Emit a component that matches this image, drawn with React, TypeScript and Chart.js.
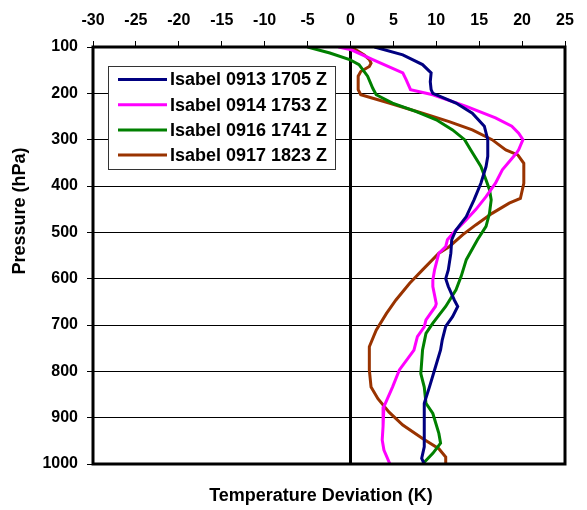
import React, { useEffect, useRef } from "react";
import { Chart, registerables } from "chart.js";

Chart.register(...registerables);

// ---- data ----
const seriesLabels = [
  "Isabel 0913 1705 Z",
  "Isabel 0914 1753 Z",
  "Isabel 0916 1741 Z",
  "Isabel 0917 1823 Z",
];
const seriesColors = ["#000080", "#FF00FF", "#008000", "#993300"];

const p0913 = [100, 117, 138, 156, 175, 192, 200, 221, 243, 271, 300, 336, 358, 394, 430, 466, 495, 516, 545, 581, 600, 617, 646, 660, 682, 703, 732, 754, 797, 834, 869, 919, 963, 988, 1000];
const t0913 = [2.8, 6.1, 8.4, 9.4, 9.3, 9.4, 9.6, 12.3, 14.2, 15.6, 16.0, 16.0, 15.8, 15.2, 14.4, 13.5, 12.3, 11.8, 11.7, 11.4, 11.1, 11.4, 12.1, 12.5, 11.9, 11.1, 10.7, 10.5, 9.8, 9.2, 8.6, 8.6, 8.6, 8.3, 8.6];

const p0914 = [100, 106, 127, 156, 171, 192, 203, 228, 253, 271, 286, 300, 322, 330, 365, 394, 423, 451, 473, 499, 516, 531, 545, 581, 603, 617, 654, 660, 689, 704, 725, 754, 797, 834, 876, 919, 948, 970, 1000];
const t0914 = [-1.4, 0.1, 2.6, 6.1, 6.5, 7.0, 9.6, 13.5, 16.9, 18.8, 19.6, 20.1, 19.6, 19.3, 17.7, 16.9, 15.8, 14.6, 13.5, 12.1, 11.3, 11.1, 10.3, 9.8, 9.6, 9.6, 10.0, 9.9, 8.8, 8.6, 7.8, 7.4, 5.7, 4.9, 3.9, 3.8, 3.7, 3.9, 4.6];

const p0916 = [100, 113, 127, 138, 163, 189, 203, 221, 239, 257, 279, 300, 322, 358, 387, 408, 430, 459, 487, 516, 559, 595, 624, 660, 696, 718, 754, 805, 834, 869, 891, 934, 955, 977, 1000];
const t0916 = [-5.0, -2.4, -0.1, 1.0, 2.0, 2.6, 3.0, 4.9, 7.6, 10.0, 11.9, 13.3, 14.0, 15.2, 15.8, 16.2, 16.4, 16.2, 15.8, 14.8, 13.5, 12.9, 12.3, 11.1, 9.6, 8.8, 8.4, 8.2, 8.6, 8.8, 9.6, 10.3, 10.5, 9.6, 8.4];

const p0917 = [100, 117, 127, 135, 142, 153, 163, 192, 203, 221, 243, 261, 279, 300, 322, 333, 351, 394, 427, 437, 459, 484, 505, 531, 545, 581, 610, 646, 675, 711, 747, 797, 834, 859, 888, 916, 945, 967, 985, 1000];
const t0917 = [0.1, 1.6, 2.2, 2.4, 2.2, 1.2, 0.9, 0.9, 1.2, 4.5, 8.4, 11.5, 14.2, 16.5, 18.1, 19.5, 20.2, 20.2, 19.8, 18.5, 16.5, 14.6, 13.1, 11.5, 10.3, 8.4, 6.9, 5.3, 4.2, 3.0, 2.2, 2.2, 2.4, 3.2, 4.5, 6.1, 8.4, 10.3, 11.1, 11.1];

const seriesP = [p0913, p0914, p0916, p0917];
const seriesT = [t0913, t0914, t0916, t0917];

const xMin = -30;
const xMax = 25;
const xStep = 5;
const yMin = 100;
const yMax = 1000;
const yStep = 100;

const xTitle = "Temperature Deviation (K)";
const yTitle = "Pressure (hPa)";

const FONT = '"Liberation Sans", Arial, Helvetica, sans-serif';

export default function App() {
  const ref = useRef<HTMLCanvasElement | null>(null);

  useEffect(() => {
    document.body.style.margin = "0";
    const canvas = ref.current;
    if (!canvas) return;

    const framePlugin = {
      id: "frame",
      afterDatasetsDraw(chart: any) {
        const { ctx, chartArea: a } = chart;
        ctx.save();
        ctx.strokeStyle = "#000";
        ctx.lineWidth = 3;
        ctx.strokeRect(a.left, a.top, a.right - a.left, a.bottom - a.top);
        ctx.restore();
      },
    };

    const titlesPlugin = {
      id: "axisTitles",
      afterDraw(chart: any) {
        const { ctx } = chart;
        ctx.save();
        ctx.fillStyle = "#000";
        ctx.font = `bold 18px ${FONT}`;
        ctx.textAlign = "center";
        ctx.textBaseline = "middle";
        ctx.fillText(xTitle, 321, 496);
        ctx.translate(20, 211);
        ctx.rotate(-Math.PI / 2);
        ctx.fillText(yTitle, 0, 0);
        ctx.restore();
      },
    };

    const legendPlugin = {
      id: "legendBox",
      afterDraw(chart: any) {
        const { ctx } = chart;
        const bx = 108.5, by = 66.5, bw = 227, bh = 103;
        ctx.save();
        ctx.fillStyle = "#fff";
        ctx.fillRect(bx, by, bw, bh);
        ctx.strokeStyle = "#333";
        ctx.lineWidth = 1;
        ctx.strokeRect(bx, by, bw, bh);
        ctx.font = `bold 18px ${FONT}`;
        ctx.textAlign = "left";
        ctx.textBaseline = "middle";
        chart.data.datasets.forEach((ds: any, i: number) => {
          const cy = 79.5 + i * 25.2;
          ctx.strokeStyle = ds.borderColor;
          ctx.lineWidth = 3;
          ctx.beginPath();
          ctx.moveTo(118, cy);
          ctx.lineTo(167, cy);
          ctx.stroke();
          ctx.fillStyle = "#000";
          ctx.fillText(ds.label, 170, cy + 1);
        });
        ctx.restore();
      },
    };

    const datasets = seriesLabels.map((label, i) => ({
      label,
      data: seriesP[i].map((p, j) => ({ x: seriesT[i][j], y: p })),
      borderColor: seriesColors[i],
      backgroundColor: seriesColors[i],
      borderWidth: 3,
      pointRadius: 0,
      showLine: true,
      tension: 0,
      fill: false,
    }));

    const chart = new Chart(canvas, {
      type: "scatter",
      data: { datasets },
      options: {
        animation: false,
        responsive: false,
        devicePixelRatio: 1,
        layout: { padding: { left: 0, top: 0, right: 22, bottom: 46 } },
        plugins: {
          legend: { display: false },
          tooltip: { enabled: false },
          title: { display: false },
        },
        scales: {
          x: {
            type: "linear",
            position: "top",
            min: xMin,
            max: xMax,
            afterFit: (s: any) => {
              s.height = 47;
            },
            ticks: {
              stepSize: xStep,
              color: "#000",
              padding: 11,
              font: { family: FONT, size: 16, weight: "bold" },
              callback: (v: any) => String(v),
            },
            grid: {
              color: (c: any) => (c.tick && c.tick.value === 0 ? "#000" : "rgba(0,0,0,0)"),
              lineWidth: (c: any) => (c.tick && c.tick.value === 0 ? 3 : 1),
              tickColor: "#000",
              tickWidth: 1,
              tickLength: 6,
              drawTicks: true,
            },
            border: { display: false },
          },
          y: {
            type: "linear",
            position: "left",
            reverse: true,
            min: yMin,
            max: yMax,
            afterFit: (s: any) => {
              s.width = 93;
            },
            ticks: {
              stepSize: yStep,
              color: "#000",
              padding: 9,
              font: { family: FONT, size: 16, weight: "bold" },
              callback: (v: any) => String(v),
            },
            grid: {
              color: "#000",
              lineWidth: 1,
              tickColor: "#000",
              tickLength: 6,
              drawTicks: true,
            },
            border: { display: false },
          },
        },
      },
      plugins: [framePlugin, titlesPlugin, legendPlugin],
    } as any);

    return () => chart.destroy();
  }, []);

  return <canvas ref={ref} width={587} height={510} style={{ display: "block" }} />;
}
